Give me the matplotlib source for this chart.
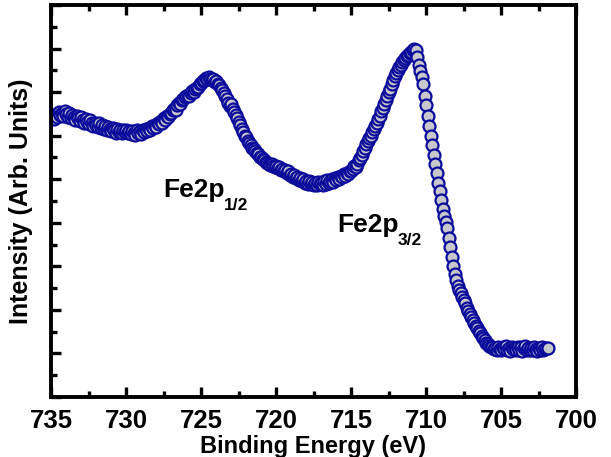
import numpy as np
import matplotlib
matplotlib.use('Agg')
import matplotlib.pyplot as plt
from matplotlib.ticker import MultipleLocator, NullFormatter

plt.rcParams['font.family'] = ['Liberation Sans', 'DejaVu Sans']
plt.rcParams['font.weight'] = 'bold'

# binding energy grid, 735.0 -> 701.9 eV in 0.1 eV steps
energy = np.round(np.arange(735.0, 701.85, -0.1), 1)

# intensity (arb. units), one row per eV
intensity = [
    6.40, 6.45, 6.38, 6.50, 6.42, 6.55, 6.48, 6.52, 6.45, 6.56,
    6.50, 6.44, 6.52, 6.40, 6.47, 6.42, 6.36, 6.45, 6.40, 6.33,
    6.42, 6.36, 6.30, 6.38, 6.32, 6.27, 6.35, 6.28, 6.22, 6.30,
    6.25, 6.20, 6.28, 6.18, 6.24, 6.15, 6.22, 6.12, 6.20, 6.16,
    6.10, 6.18, 6.12, 6.06, 6.15, 6.08, 6.14, 6.05, 6.12, 6.09,
    6.14, 6.06, 6.11, 6.03, 6.10, 6.07, 6.02, 6.12, 6.05, 6.10,
    6.04, 6.12, 6.08, 6.15, 6.10, 6.18, 6.14, 6.22, 6.17, 6.25,
    6.20, 6.30, 6.26, 6.34, 6.30, 6.40, 6.36, 6.46, 6.44, 6.50,
    6.52, 6.58, 6.62, 6.60, 6.70, 6.76, 6.72, 6.82, 6.85, 6.88,
    6.90, 6.94, 6.92, 6.98, 7.02, 7.00, 7.06, 7.10, 7.12, 7.18,
    7.20, 7.25, 7.28, 7.32, 7.30, 7.34, 7.31, 7.28, 7.30, 7.24,
    7.25, 7.18, 7.16, 7.10, 7.04, 6.98, 6.90, 6.84, 6.76, 6.68,
    6.72, 6.62, 6.55, 6.48, 6.40, 6.32, 6.24, 6.16, 6.08, 6.00,
    5.96, 5.88, 5.84, 5.78, 5.72, 5.70, 5.64, 5.60, 5.58, 5.52,
    5.50, 5.46, 5.44, 5.40, 5.38, 5.35, 5.32, 5.36, 5.30, 5.28,
    5.30, 5.25, 5.28, 5.22, 5.24, 5.18, 5.22, 5.14, 5.18, 5.10,
    5.12, 5.06, 5.10, 5.02, 5.05, 4.98, 5.03, 4.95, 5.00, 4.92,
    4.97, 4.90, 4.95, 4.88, 4.93, 4.86, 4.92, 4.87, 4.94, 4.88,
    4.92, 4.86, 4.95, 4.90, 4.98, 4.92, 4.96, 5.00, 4.94, 5.02,
    4.98, 5.05, 5.00, 5.08, 5.04, 5.12, 5.08, 5.15, 5.12, 5.18,
    5.20, 5.24, 5.30, 5.28, 5.36, 5.44, 5.48, 5.56, 5.64, 5.72,
    5.80, 5.88, 5.94, 6.00, 6.08, 6.16, 6.22, 6.30, 6.38, 6.46,
    6.56, 6.64, 6.72, 6.82, 6.90, 7.00, 7.08, 7.18, 7.28, 7.36,
    7.44, 7.50, 7.58, 7.62, 7.68, 7.74, 7.78, 7.84, 7.86, 7.90,
    7.93, 7.96, 7.98, 7.97, 7.80, 7.62, 7.48, 7.35, 7.18, 6.92,
    6.70, 6.45, 6.22, 6.00, 5.78, 5.55, 5.35, 5.15, 4.92, 4.72,
    4.52, 4.32, 4.15, 4.02, 3.88, 3.65, 3.44, 3.22, 3.00, 2.82,
    2.68, 2.55, 2.45, 2.38, 2.30, 2.22, 2.15, 2.05, 1.98, 1.90,
    1.84, 1.76, 1.70, 1.64, 1.58, 1.52, 1.46, 1.40, 1.36, 1.30,
    1.25, 1.22, 1.18, 1.14, 1.15, 1.10, 1.13, 1.09, 1.14, 1.11,
    1.08, 1.14, 1.10, 1.16, 1.08, 1.12, 1.06, 1.15, 1.10, 1.13,
    1.07, 1.14, 1.09, 1.15, 1.06, 1.12, 1.16, 1.08, 1.13, 1.07,
    1.12, 1.08, 1.15, 1.10, 1.06, 1.13, 1.09, 1.14, 1.08, 1.11,
    1.12, 1.12,
]

# peak labels: (main text, subscript, energy, intensity of baseline)
peaks = [('Fe2p', '1/2', 727.5, 4.59), ('Fe2p', '3/2', 715.9, 3.79)]

fig = plt.figure(figsize=(6.11, 4.57), dpi=100)
ax = fig.add_axes([51 / 611, 1 - 397 / 457, 525 / 611, 392 / 457])

ax.plot(energy, intensity, 'o', ms=8.6, mfc='#c8c8cc', mec='#0c0c9c', mew=1.6)

ax.set_xlim(735, 700)
ax.set_ylim(0, 9)
ax.xaxis.set_major_locator(MultipleLocator(5))
ax.xaxis.set_minor_locator(MultipleLocator(2.5))
ax.yaxis.set_major_locator(MultipleLocator(1))
ax.yaxis.set_minor_locator(MultipleLocator(0.5))
ax.yaxis.set_major_formatter(NullFormatter())

ax.tick_params(which='both', direction='in', top=True, right=False, width=2.4)
ax.tick_params(which='major', length=7, labelsize=18.5, pad=9)
ax.tick_params(which='minor', length=4)
for lbl in ax.get_xticklabels():
    lbl.set_fontweight('bold')
for s in ax.spines.values():
    s.set_linewidth(2.8)

ax.set_xlabel('Binding Energy (eV)', fontsize=17, fontweight='bold', labelpad=1)
ax.set_ylabel('Intensity (Arb. Units)', fontsize=18, fontweight='bold', labelpad=4)

for main, sub, x, y in peaks:
    ax.text(x, y, main, fontsize=19, fontweight='bold', va='baseline')
    ax.annotate(sub, (x, y), xytext=(43.5, -9.5), textcoords='offset points',
                fontsize=12.5, fontweight='bold', va='baseline')

fig.savefig('out.png', dpi=100)
